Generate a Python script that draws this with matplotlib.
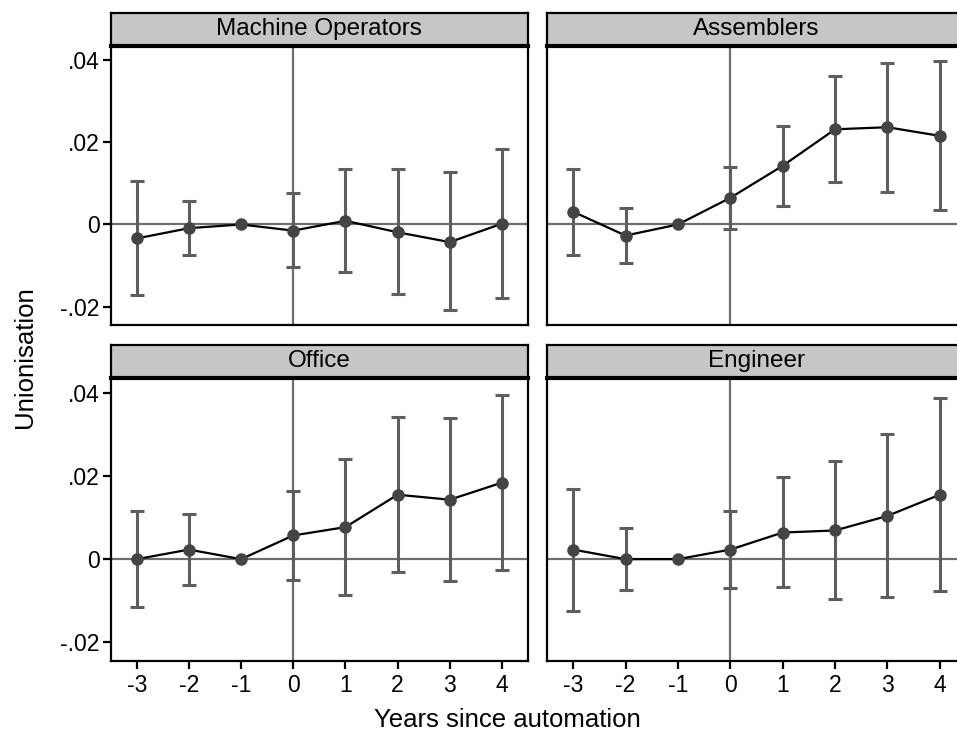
import matplotlib
matplotlib.use("Agg")
import matplotlib.pyplot as plt
import numpy as np

plt.rcParams['font.family'] = ['Liberation Sans', 'DejaVu Sans']

years = [-3, -2, -1, 0, 1, 2, 3, 4]
panels = ['Machine Operators', 'Assemblers', 'Office', 'Engineer']

# point estimates
est_machine = [-0.0034, -0.0009, 0.0, -0.0015, 0.0009, -0.0019, -0.0043, 0.0002]
est_assemb = [0.0031, -0.0027, 0.0, 0.0065, 0.0143, 0.0232, 0.0237, 0.0216]
est_office = [0.0, 0.0023, 0.0, 0.0057, 0.0077, 0.0155, 0.0143, 0.0184]
est_engin = [0.0023, 0.0, 0.0, 0.0023, 0.0064, 0.0069, 0.0104, 0.0155]

# confidence intervals (upper / lower), -1 is the reference year
hi_machine = [0.0105, 0.0057, 0.0, 0.0076, 0.0134, 0.0136, 0.0127, 0.0183]
lo_machine = [-0.0172, -0.0074, 0.0, -0.0104, -0.0117, -0.0170, -0.0209, -0.0180]
hi_assemb = [0.0134, 0.0040, 0.0, 0.0140, 0.0241, 0.0361, 0.0394, 0.0399]
lo_assemb = [-0.0075, -0.0093, 0.0, -0.0010, 0.0045, 0.0103, 0.0079, 0.0036]
hi_office = [0.0117, 0.0109, 0.0, 0.0164, 0.0242, 0.0342, 0.0339, 0.0395]
lo_office = [-0.0114, -0.0063, 0.0, -0.0049, -0.0087, -0.0032, -0.0052, -0.0027]
hi_engin = [0.0168, 0.0075, 0.0, 0.0116, 0.0197, 0.0237, 0.0301, 0.0387]
lo_engin = [-0.0124, -0.0074, 0.0, -0.0069, -0.0067, -0.0097, -0.0091, -0.0077]

estimates = [est_machine, est_assemb, est_office, est_engin]
uppers = [hi_machine, hi_assemb, hi_office, hi_engin]
lowers = [lo_machine, lo_assemb, lo_office, lo_engin]

W, H = 957, 732
fig = plt.figure(figsize=(W / 100, H / 100), dpi=100)

lefts = [110.7, 547]
rights = [528, 966]
tops = [46, 378.3]
bottoms = [325, 661]
strip_h = 33

for k, name in enumerate(panels):
    r, c = divmod(k, 2)
    x0 = lefts[c] / W
    w = (rights[c] - lefts[c]) / W
    y0 = 1 - bottoms[r] / H
    h = (bottoms[r] - tops[r]) / H
    ax = fig.add_axes([x0, y0, w, h])
    sax = fig.add_axes([x0, 1 - tops[r] / H, w, strip_h / H])

    # strip with panel title
    sax.set_facecolor('#c6c6c6')
    sax.set_xticks([])
    sax.set_yticks([])
    for s in sax.spines.values():
        s.set_linewidth(1.6)
    sax.spines['bottom'].set_linewidth(3)
    sax.text(0.5, 0.52, name, ha='center', va='center', fontsize=17.5,
             transform=sax.transAxes)

    est = np.array(estimates[k])
    up = np.array(uppers[k])
    lo = np.array(lowers[k])
    yrs = np.array(years)
    ci = yrs != -1

    ax.axhline(0, color='#6e6e6e', lw=1.6, zorder=1)
    ax.axvline(0, color='#6e6e6e', lw=1.6, zorder=1)
    ax.errorbar(yrs[ci], est[ci], yerr=[est[ci] - lo[ci], up[ci] - est[ci]],
                fmt='none', ecolor='#5e5e5e', elinewidth=2.2, capsize=5,
                capthick=2.2, zorder=2)
    ax.plot(yrs, est, color='black', lw=1.6, zorder=3)
    ax.plot(yrs, est, 'o', color='#444444', ms=8, zorder=4)

    ax.set_xlim(-3.5, 4.5)
    ax.set_ylim(-0.0245, 0.0435)
    for s in ax.spines.values():
        s.set_linewidth(1.6)

    ax.set_yticks([-0.02, 0, 0.02, 0.04])
    if c == 0:
        ax.set_yticklabels(['-.02', '0', '.02', '.04'], fontsize=16.5)
        ax.tick_params(axis='y', length=6, width=1.6, pad=2)
    else:
        ax.tick_params(axis='y', left=False, labelleft=False)

    ax.set_xticks(years)
    if r == 1:
        ax.set_xticklabels([str(y) for y in years], fontsize=16.5)
        ax.tick_params(axis='x', length=6, width=1.6, pad=3)
    else:
        ax.tick_params(axis='x', bottom=False, labelbottom=False)

fig.text(507 / W, 1 - 720 / H, 'Years since automation', ha='center',
         va='center', fontsize=18.5)
fig.text(25 / W, 1 - 357 / H, 'Unionisation', ha='center', va='center',
         rotation=90, fontsize=18.5)

fig.savefig('out.png', dpi=100)
